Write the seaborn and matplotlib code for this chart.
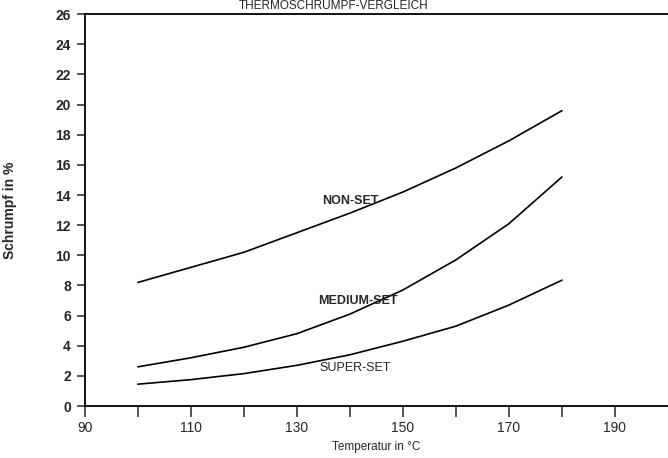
import numpy as np
import pandas as pd
import matplotlib
matplotlib.use("Agg")
import matplotlib.pyplot as plt
import seaborn as sns

# values
temperatur = [100, 110, 120, 130, 140, 150, 160, 170, 180]
non_set = [8.2, 9.2, 10.2, 11.5, 12.8, 14.2, 15.8, 17.6, 19.6]
medium_set = [2.6, 3.2, 3.9, 4.8, 6.1, 7.7, 9.7, 12.1, 15.2]
super_set = [1.45, 1.75, 2.15, 2.7, 3.4, 4.3, 5.3, 6.7, 8.35]

x_ticks_major = [90, 110, 130, 150, 170, 190]
x_ticks_minor = [100, 120, 140, 160, 180]
y_ticks = list(range(0, 27, 2))


def main():
    sns.set_style("white")
    plt.rcParams['font.family'] = ['Liberation Sans', 'DejaVu Sans']

    df = pd.DataFrame({
        "T": temperatur * 3,
        "S": non_set + medium_set + super_set,
        "serie": ["NON-SET"] * 9 + ["MEDIUM-SET"] * 9 + ["SUPER-SET"] * 9,
    })

    fig = plt.figure(figsize=(6.68, 4.58), dpi=100)
    ax = fig.add_axes([0.127, 0.1135, 0.873, 0.8555])
    sns.lineplot(data=df, x="T", y="S", units="serie", estimator=None,
                 color="black", lw=1.2, ax=ax, legend=False)

    ax.set_xlim(90, 200)
    ax.set_ylim(0, 26)
    ax.set_xticks(x_ticks_major)
    ax.set_xticks(x_ticks_minor, minor=True)
    ax.set_yticks(y_ticks)
    ax.tick_params(axis="x", which="both", direction="out", length=8,
                   width=1.1, labelsize=10, pad=3, bottom=True)
    ax.tick_params(axis="y", direction="out", length=6, width=1.1,
                   labelsize=10, pad=4, left=True)
    for lbl in ax.get_yticklabels():
        lbl.set_fontweight("bold")

    for s in ["left", "bottom", "top"]:
        ax.spines[s].set_visible(True)
        ax.spines[s].set_color("black")
        ax.spines[s].set_linewidth(1.3)
    ax.spines["right"].set_visible(False)

    ax.set_xlabel("Temperatur in °C", fontsize=8.5, labelpad=4)
    ax.set_ylabel("Schrumpf in %", fontsize=10, fontweight="bold", labelpad=28)

    ax.text(140, 13.6, "NON-SET", ha="center", va="center", fontsize=9, fontweight="bold")
    ax.text(141.5, 7.0, "MEDIUM-SET", ha="center", va="center", fontsize=9, fontweight="bold")
    ax.text(141, 2.55, "SUPER-SET", ha="center", va="center", fontsize=9)

    fig.text(0.5, 0.999, "THERMOSCHRUMPF-VERGLEICH", ha="center", va="top", fontsize=8.5)

    fig.savefig("out.png", dpi=100)


if __name__ == '__main__':
    main()
